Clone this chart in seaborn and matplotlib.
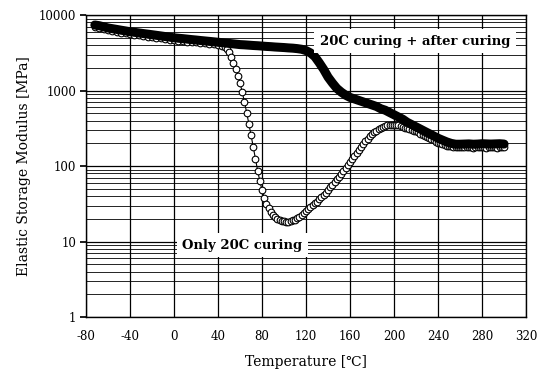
import numpy as np
import pandas as pd
import seaborn as sns
import matplotlib.pyplot as plt
from matplotlib.ticker import LogLocator, MultipleLocator, FixedLocator, NullFormatter

# --- data (temperature in C, modulus in MPa) ---
after_temp = list(range(-72, 301, 4))
after_modulus = [
    7400, 7240, 7000, 6760, 6610, 6460, 6310, 6170, 6030, 5920, 5810, 5700,
    5600, 5500, 5400, 5300, 5200, 5110,
    5010, 4940, 4880, 4810, 4740, 4680, 4610, 4550, 4490, 4430, 4370, 4310,
    4250, 4190, 4130, 4070,
    4040, 4000, 3960, 3930, 3890, 3850, 3820, 3780, 3750, 3720, 3680, 3650,
    3600, 3530, 3390, 3160,
    2820, 2340, 1910, 1510, 1260, 1070, 955, 870, 813, 776, 741, 708,
    676, 646, 617, 575,
    550, 513, 479, 447, 417, 380, 355, 331, 309, 288, 269, 251,
    234, 221, 209, 200, 195,
    195, 196, 197, 195, 196, 198, 197, 196, 197, 198, 196,
]

only20_temp = list(range(-72, 45, 4)) + list(range(46, 301, 2))
only20_modulus = [
    6900, 6750, 6500, 6300, 6150, 6000, 5870, 5740, 5610, 5500,
    5400, 5300, 5210, 5110, 5020, 4930, 4840, 4750, 4660, 4600,
    4540, 4470, 4410, 4350, 4290, 4230, 4180, 4120, 4060, 3950,
    # 46 .. 254 step 2
    3800, 3550, 3240, 2820, 2340, 1950, 1580, 1260, 955, 708,
    513, 363, 257, 178, 123, 87, 63, 48, 38, 31.6,
    27.5, 24.5, 22.4, 20.9, 20.0, 19.3, 18.8, 18.6, 18.4, 18.4,
    18.6, 19.1, 19.5, 20.4, 21.4, 22.6, 24.0, 25.4, 26.9, 28.5,
    30.2, 32.0, 33.9, 36.3, 38.9, 41.7, 44.7, 48.4, 52.5, 56.9,
    61.7, 66.8, 72.4, 78.5, 85.1, 93.3, 102, 112, 123, 135,
    148, 162, 178, 195, 214, 232, 251, 266, 282, 295,
    309, 320, 331, 339, 347, 351, 355, 355, 351, 347,
    339, 331, 324, 316, 309, 302, 295, 288, 279, 269,
    260, 251, 243, 234, 226, 219, 211, 204, 200, 195,
    191, 186, 184, 182, 180,
    # 256 .. 300 step 2
    179, 178, 178, 177, 178, 179, 178, 177, 176, 177,
    178, 179, 178, 177, 176, 177, 178, 178, 177, 176,
    177, 178, 177,
]

x_ticks = [-80, -40, 0, 40, 80, 120, 160, 200, 240, 280, 320]
x_tick_labels = ["-80", "-40", "0", "40", "80", "120", "160", "200", "240", "280", "320"]
y_ticks = [1, 10, 100, 1000, 10000]
y_tick_labels = ["1", "10", "100", "1000", "10000"]

after_df = pd.DataFrame({"temp": after_temp, "modulus": after_modulus})
only20_df = pd.DataFrame({"temp": only20_temp, "modulus": only20_modulus})

# --- style ---
sns.set_theme(style="white")
plt.rcParams["font.family"] = ["DejaVu Serif", "DejaVu Sans"]
plt.rcParams["axes.unicode_minus"] = False
plt.rcParams["text.color"] = "black"
plt.rcParams["axes.labelcolor"] = "black"
plt.rcParams["xtick.color"] = "black"
plt.rcParams["ytick.color"] = "black"

fig = plt.figure(figsize=(5.48, 3.78), dpi=100)
ax = fig.add_axes([0.157, 0.161, 0.803, 0.799])

# open circles: only 20C curing
sns.lineplot(
    data=only20_df, x="temp", y="modulus", ax=ax,
    color="black", linewidth=0.8, marker="o", markersize=4.8,
    markerfacecolor="white", markeredgecolor="black", markeredgewidth=0.8,
    zorder=3,
)
# thick black band: 20C curing + after curing
sns.lineplot(
    data=after_df, x="temp", y="modulus", ax=ax,
    color="black", linewidth=6.5, zorder=4,
)

ax.set_yscale("log")
ax.set_xlim(-80, 320)
ax.set_ylim(1, 10000)

ax.xaxis.set_major_locator(FixedLocator(x_ticks))
ax.set_xticklabels(x_tick_labels)
ax.xaxis.set_minor_locator(MultipleLocator(20))
ax.yaxis.set_major_locator(FixedLocator(y_ticks))
ax.set_yticklabels(y_tick_labels)
ax.yaxis.set_minor_locator(LogLocator(base=10, subs=np.arange(2, 10)))
ax.yaxis.set_minor_formatter(NullFormatter())

ax.grid(which="major", axis="both", color="black", linewidth=0.9)
ax.grid(which="minor", axis="y", color="black", linewidth=0.6)
ax.set_axisbelow(True)

ax.tick_params(axis="x", which="major", direction="in", length=3, pad=9,
               labelsize=8.5)
ax.tick_params(axis="x", which="minor", direction="in", length=3)
ax.tick_params(axis="y", which="major", direction="out", length=4, pad=3,
               labelsize=8.5, left=True)
ax.tick_params(axis="y", which="minor", length=0)

for side in ["left", "right", "top", "bottom"]:
    ax.spines[side].set_color("black")
    ax.spines[side].set_linewidth(1.0)

ax.set_xlabel("Temperature [℃]", fontsize=10, labelpad=9)
ax.set_ylabel("Elastic Storage Modulus [MPa]", fontsize=10, labelpad=6)

box = dict(facecolor="white", edgecolor="none", pad=4)
ax.text(0.748, 0.914, "20C curing + after curing", transform=ax.transAxes,
        ha="center", va="center", fontsize=9.5, fontweight="bold",
        bbox=box, zorder=6)
ax.text(0.355, 0.238, "Only 20C curing", transform=ax.transAxes,
        ha="center", va="center", fontsize=9.5, fontweight="bold",
        bbox=box, zorder=6)

fig.savefig("out.png", dpi=100)
